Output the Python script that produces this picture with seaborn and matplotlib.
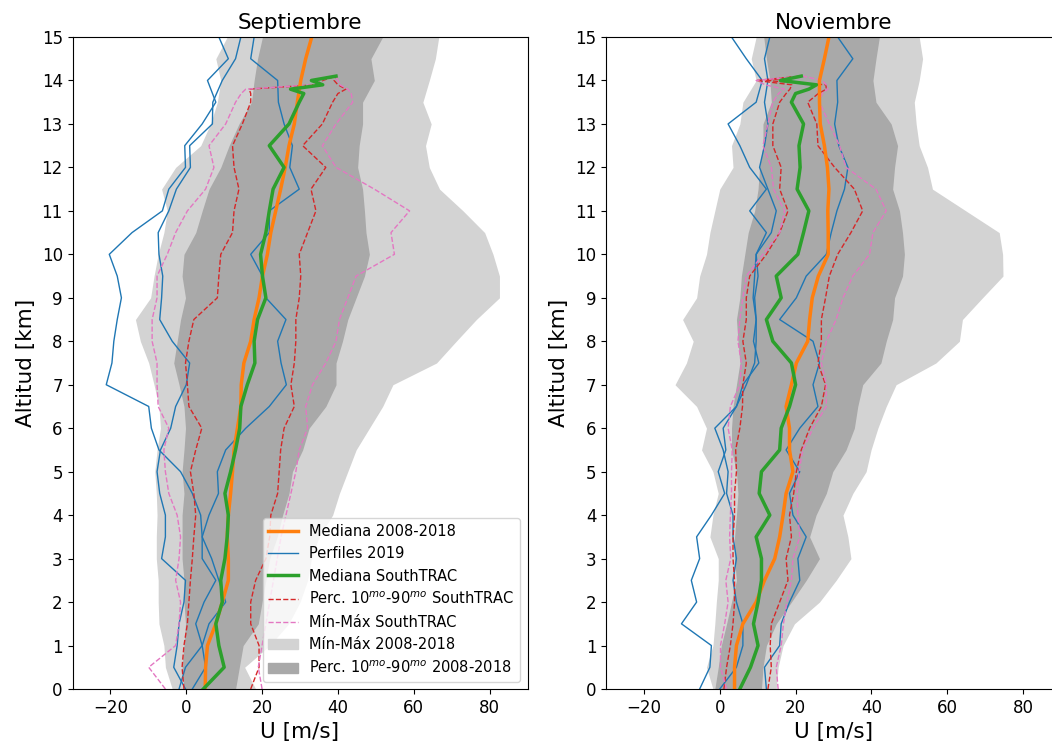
import numpy as np
import matplotlib
matplotlib.use("Agg")
import matplotlib.pyplot as plt
import seaborn as sns
from matplotlib.lines import Line2D
from matplotlib.patches import Patch

# altitude levels [km]
alt = [0, 0.5, 1, 1.5, 2, 2.5, 3, 3.5, 4, 4.5, 5, 5.5, 6, 6.5, 7, 7.5,
       8, 8.5, 9, 9.5, 10, 10.5, 11, 11.5, 12, 12.5, 13, 13.5, 14, 14.5, 15]
alt_st = [0, 0.5, 1, 1.5, 2, 2.5, 3, 3.5, 4, 4.5, 5, 5.5, 6, 6.5, 7, 7.5,
          8, 8.5, 9, 9.5, 10, 10.5, 11, 11.5, 12, 12.5, 13, 13.5,
          13.7, 13.8, 13.9, 14.0, 14.1]

# ---- Septiembre ----
sep_min = [-3.7, -5.5, -5.9, -7.2, -7.4, -7.4, -7.9, -7.9, -7.7, -7.9, -8.3, -7.7, -6.8, -7.2, -8.5, -9.9,
           -12.1, -13.4, -9.4, -8.5, -7.4, -5.9, -5.0, -6.5, -2.8, 3.8, 6.4, 8.2, 9.1, 7.8, 10.8]
sep_max = [18.3, 15.4, 22, 27, 30, 32, 33, 35, 38.6, 40.4, 42.6, 44.8, 48.3, 51.8, 54.5, 66,
           71.2, 76.5, 82.6, 82.6, 80.9, 78.7, 73.0, 66.8, 64.1, 63.1, 64.6, 62.4, 64.1, 65.7, 66.6]
sep_p10 = [-0.6, -1.1, -0.6, -0.2, -0.6, -0.6, -1.1, -1.1, -1.1, -0.6, -1.1, -0.6, -0.2, -0.6, -1.9, -3.3,
           -2.4, -1.5, -0.2, -1.1, -0.6, 2.5, 4.2, 6.0, 9.1, 11.3, 13.9, 17.2, 17.9, 18.8, 20.1]
sep_p90 = [13, 14, 15, 19, 20, 21, 22, 24, 25.4, 27.1, 28.0, 30.7, 32.4, 36.8, 39.5, 39.5,
           41.2, 42.6, 44.8, 47.0, 48.3, 47.4, 47.0, 46.5, 45.2, 45.6, 46.5, 46.5, 49.6, 48.7, 51.8]
sep_med = [5.0, 5.1, 5.6, 7.8, 9.5, 11.1, 11.1, 10.8, 11.1, 11.7, 12.2, 12.6, 13.5, 14.4, 14.5, 15.2,
           17.0, 17.9, 19.2, 20.1, 21.4, 22.3, 23.6, 24.9, 26.1, 27.1, 28.5, 29.3, 30.2, 31.5, 33.1]

sep_st_med = [4.5, 10.0, 8.6, 7.8, 9.5, 9.1, 10.2, 10.8, 11.1, 10.2, 11.7, 13.0, 14.1, 14.4, 16.1, 18.1,
              17.9, 18.8, 21.0, 20.1, 19.6, 21.0, 21.9, 22.9, 25.8, 21.9, 27.1, 29.8,
              31.0, 27.5, 36.0, 33.0, 39.5]
sep_st_p10 = [-0.6, -1.1, -0.6, 0.3, 0.7, 1.1, 1.6, 2.0, 2.5, 2.0, 1.1, 2.5, 4.1, 0.7, 0.3, -0.2,
              0.7, 2.0, 8.2, 8.6, 9.1, 12.2, 12.6, 13.9, 12.6, 12.2, 14.8, 17.0,
              17.0, 16.6, 34.0, 36.0, 39.5]
sep_st_p90 = [17.0, 19.2, 19.2, 17.0, 17.0, 18.3, 21, 22, 22.3, 24.1, 24.5, 24.9, 25.8, 28.5, 27.6, 28.5,
              28.9, 28.9, 29.8, 30.2, 29.8, 32.0, 34.2, 32.9, 36.8, 30.7, 35.9, 38.6,
              40.0, 42.1, 40.0, 39.0, 39.5]
sep_st_min = [-5.5, -9.9, -2.8, -1.9, -1.5, -2.8, -1.9, -1.5, -2.4, -4.6, -5.5, -5.9, -4.6, -7.4, -7.7, -7.7,
              -9.0, -9.0, -7.7, -7.7, -5.0, -2.8, 0.3, 5.1, 7.3, 6.0, 10.4, 13.0,
              14.5, 15.7, 33.0, 35.0, 39.5]
sep_st_max = [20, 19, 20, 21, 22, 23, 24, 25, 26.3, 27.6, 28.9, 29.8, 32.0, 31.5, 33.3, 36.8,
              39.5, 40.4, 42.6, 44.8, 54.9, 54.0, 58.9, 49.6, 39.5, 35.9, 39.5, 43.9,
              43.5, 42.6, 40.5, 40.0, 39.5]

sep_prof_a = [1.6, 5.1, 4.2, 2.5, 4.7, 7.8, 4.2, 4.2, 3.8, 1.6, -1.5, -7.2, -9.2, -9.9, -21.1, -19.6,
              -19.1, -18.2, -17.1, -18.2, -20.3, -14.3, -6.3, -4.6, -0.2, -0.4, 4.2, 7.8, 5.6, 11.1, 8.6]
sep_prof_b = [-0.2, -3.3, -2.4, -1.9, -0.6, -0.2, -6.5, -5.5, -5.5, -7.0, -7.7, -6.8, -4.1, -2.8, 0.0, 0.9,
              -3.7, -7.0, -6.5, -6.2, -7.2, -7.4, -4.6, -2.6, 1.1, 0.9, 6.9, 7.0, 9.5, 13.0, 14.4]
sep_prof_c = [-1.9, -0.2, 4.2, 6.0, 10.4, 8.6, 6.7, 4.2, 6.0, 8.5, 8.2, 10.4, 15.7, 21.9, 26.4, 25.0,
              24.1, 26.3, 21.0, 20.1, 17.0, 21.9, 21.9, 29.8, 27.3, 28.0, 25.8, 24.3, 24.1, 17.0, 17.9]

# ---- Noviembre ----
nov_min = [-1.8, -3.5, -1.8, -1.3, -0.9, -0.4, -0.4, -2.6, -1.8, -0.4, -1.8, -4.8, -3.5, -6.1, -11.8, -8.8,
           -7.0, -9.8, -6.1, -5.3, -3.5, -2.6, -1.3, 0.0, 3.5, 3.1, 5.3, 6.1, 9.6, 8.3, 9.6]
nov_max = [14.9, 15.4, 16.7, 19.7, 26.3, 30.7, 34.6, 33.8, 32.5, 35.1, 38.6, 39.9, 41.7, 43.9, 46.5, 57,
           63.2, 64.0, 69.3, 74.7, 74.6, 73.7, 64.9, 56.1, 54.8, 52.6, 51.8, 51.3, 52.6, 53.5, 52.6]
nov_p10 = [-1.3, -0.4, 0.4, 1.8, 3.1, 4.4, 3.9, 3.9, 4.4, 4.8, 4.4, 3.1, 3.1, 3.5, 4.4, 5.3,
           4.8, 4.4, 5.3, 5.7, 6.6, 7.5, 9.2, 10.1, 10.5, 11.4, 11.4, 13.6, 13.2, 12.3, 11.6]
nov_p90 = [11.0, 11.4, 12.3, 14.9, 18.9, 22.8, 26.3, 23.7, 25.4, 28.1, 29.8, 33.3, 35.5, 36.4, 37.7, 42.5,
           43.9, 45.6, 46.1, 48.2, 48.7, 48.2, 47.4, 45.6, 46.1, 46.9, 45.2, 41.2, 40.4, 41.2, 42.1]
nov_med = [3.9, 3.9, 4.4, 6.1, 9.6, 11.8, 14.5, 15.8, 16.7, 17.5, 19.3, 18.4, 18.4, 17.5, 18.9, 20.2,
           23.2, 23.7, 24.4, 26.0, 28.6, 28.6, 28.5, 28.8, 28.4, 27.6, 26.5, 26.3, 26.3, 27.6, 28.8]

nov_st_med = [5.3, 8.1, 10.1, 8.9, 10.1, 11.0, 11.0, 9.6, 13.2, 10.4, 11.0, 15.8, 16.2, 18.4, 20.0, 18.9,
              14.0, 12.3, 16.2, 14.9, 20.6, 22.1, 23.5, 20.4, 21.2, 20.9, 22.1, 18.9,
              20.0, 23.5, 25.5, 16.0, 21.5]
nov_st_p10 = [1.1, 1.8, 2.8, 3.5, 3.9, 3.9, 3.5, 3.5, 3.9, 3.9, 4.4, 4.2, 5.3, 6.0, 6.1, 7.0,
              6.1, 7.0, 7.0, 7.9, 12.3, 15.8, 18.0, 15.8, 16.2, 14.0, 14.0, 15.8,
              17.5, 18.5, 19.0, 9.6, 21.5]
nov_st_p90 = [12.7, 13.6, 13.3, 13.6, 15.8, 18.0, 17.5, 18.9, 18.4, 19.5, 20.2, 21.5, 23.7, 26.8, 27.9, 25.9,
              26.8, 26.8, 27.9, 28.9, 31.1, 34.6, 37.7, 35.5, 30.3, 25.9, 25.6, 23.2,
              26.0, 28.1, 28.0, 12.0, 21.5]
nov_st_min = [1.8, 0.2, 0.2, 1.3, 2.2, 1.6, 2.9, 2.6, 2.8, 3.1, 3.1, 3.3, 2.2, 2.8, 5.3, 5.7,
              4.8, 5.3, 6.1, 7.0, 11.4, 15.8, 17.1, 14.2, 13.6, 11.4, 12.7, 14.0,
              15.5, 17.0, 12.0, 9.6, 21.5]
nov_st_max = [15.4, 14.9, 16.2, 16.8, 17.7, 18.9, 19.3, 21.1, 20.6, 20.4, 20.9, 21.9, 24.6, 28.1, 28.1, 26.8,
              28.1, 30.7, 32.5, 35.1, 39.5, 40.4, 43.9, 41.2, 33.3, 31.6, 28.9, 26.3,
              27.0, 28.5, 28.1, 27.0, 22.0]

nov_prof_a = [-5.3, -2.6, -2.2, -10.1, -6.1, -7.5, -5.3, -6.1, -2.2, 1.3, -0.4, 1.6, 0.9, 4.4, 6.1, 10.3,
              8.9, 9.6, 9.2, 10.1, 9.6, 12.3, 7.9, 12.3, 7.9, 5.3, 2.2, 9.6, 11.2, 7.0, 3.1]
nov_prof_b = [0.0, 4.4, 6.1, 6.1, 4.4, 3.5, 4.4, 3.5, 3.5, 1.8, 2.2, 0.9, -1.3, 4.4, 7.0, 9.2,
              9.6, 9.6, 8.8, 9.2, 9.6, 13.6, 14.9, 12.7, 10.5, 11.8, 12.7, 11.8, 12.7, 11.8, 13.2]
nov_prof_c = [12.3, 11.8, 15.8, 16.2, 18.4, 21.1, 20.6, 22.8, 19.3, 18.4, 21.1, 17.5, 21.1, 25.9, 24.6, 26.3,
              24.6, 15.8, 20.2, 22.8, 28.1, 29.4, 30.9, 32.9, 33.8, 31.4, 30.3, 31.1, 30.9, 35.1, 31.1]

C_ORANGE = "tab:orange"
C_BLUE = "tab:blue"
C_GREEN = "tab:green"
C_RED = "tab:red"
C_PINK = "tab:pink"


def profile(ax, x, y, **kw):
    sns.lineplot(x=x, y=y, orient="y", estimator=None, ax=ax, legend=False, **kw)


def panel(ax, title, mn, mx, p10, p90, med, st_med, st_p10, st_p90, st_min, st_max, profs):
    ax.fill_betweenx(alt, mn, mx, color="lightgray", lw=0)
    ax.fill_betweenx(alt, p10, p90, color="darkgray", lw=0)
    for p in profs:
        profile(ax, p, alt, color=C_BLUE, lw=1)
    profile(ax, st_p10, alt_st, color=C_RED, lw=1, linestyle="--")
    profile(ax, st_p90, alt_st, color=C_RED, lw=1, linestyle="--")
    profile(ax, st_min, alt_st, color=C_PINK, lw=1, linestyle="--")
    profile(ax, st_max, alt_st, color=C_PINK, lw=1, linestyle="--")
    profile(ax, med, alt, color=C_ORANGE, lw=2.5)
    profile(ax, st_med, alt_st, color=C_GREEN, lw=2.5)
    ax.set_xlim(-30, 90)
    ax.set_ylim(0, 15)
    ax.set_yticks(range(0, 16))
    ax.set_xticks([-20, 0, 20, 40, 60, 80])
    ax.set_title(title, fontsize=15.5)
    ax.set_xlabel("U [m/s]", fontsize=15.5)
    ax.set_ylabel("Altitud [km]", fontsize=15.5)
    ax.tick_params(labelsize=12)


fig = plt.figure(figsize=(10.52, 7.44), dpi=100)
ax1 = fig.add_axes([72.5 / 1052, 55 / 744, 455 / 1052, 652 / 744])
ax2 = fig.add_axes([606 / 1052, 55 / 744, 455 / 1052, 652 / 744])

panel(ax1, "Septiembre", sep_min, sep_max, sep_p10, sep_p90, sep_med,
      sep_st_med, sep_st_p10, sep_st_p90, sep_st_min, sep_st_max,
      [sep_prof_a, sep_prof_b, sep_prof_c])
panel(ax2, "Noviembre", nov_min, nov_max, nov_p10, nov_p90, nov_med,
      nov_st_med, nov_st_p10, nov_st_p90, nov_st_min, nov_st_max,
      [nov_prof_a, nov_prof_b, nov_prof_c])

handles = [
    Line2D([], [], color=C_ORANGE, lw=2.5),
    Line2D([], [], color=C_BLUE, lw=1),
    Line2D([], [], color=C_GREEN, lw=2.5),
    Line2D([], [], color=C_RED, lw=1, linestyle="--"),
    Line2D([], [], color=C_PINK, lw=1, linestyle="--"),
    Patch(color="lightgray"),
    Patch(color="darkgray"),
]
labels = [
    "Mediana 2008-2018",
    "Perfiles 2019",
    "Mediana SouthTRAC",
    r"Perc. 10$^{mo}$-90$^{mo}$ SouthTRAC",
    "Mín-Máx SouthTRAC",
    "Mín-Máx 2008-2018",
    r"Perc. 10$^{mo}$-90$^{mo}$ 2008-2018",
]
ax1.legend(handles, labels, loc="lower right", fontsize=10.5)

fig.savefig("out.png", dpi=100)
